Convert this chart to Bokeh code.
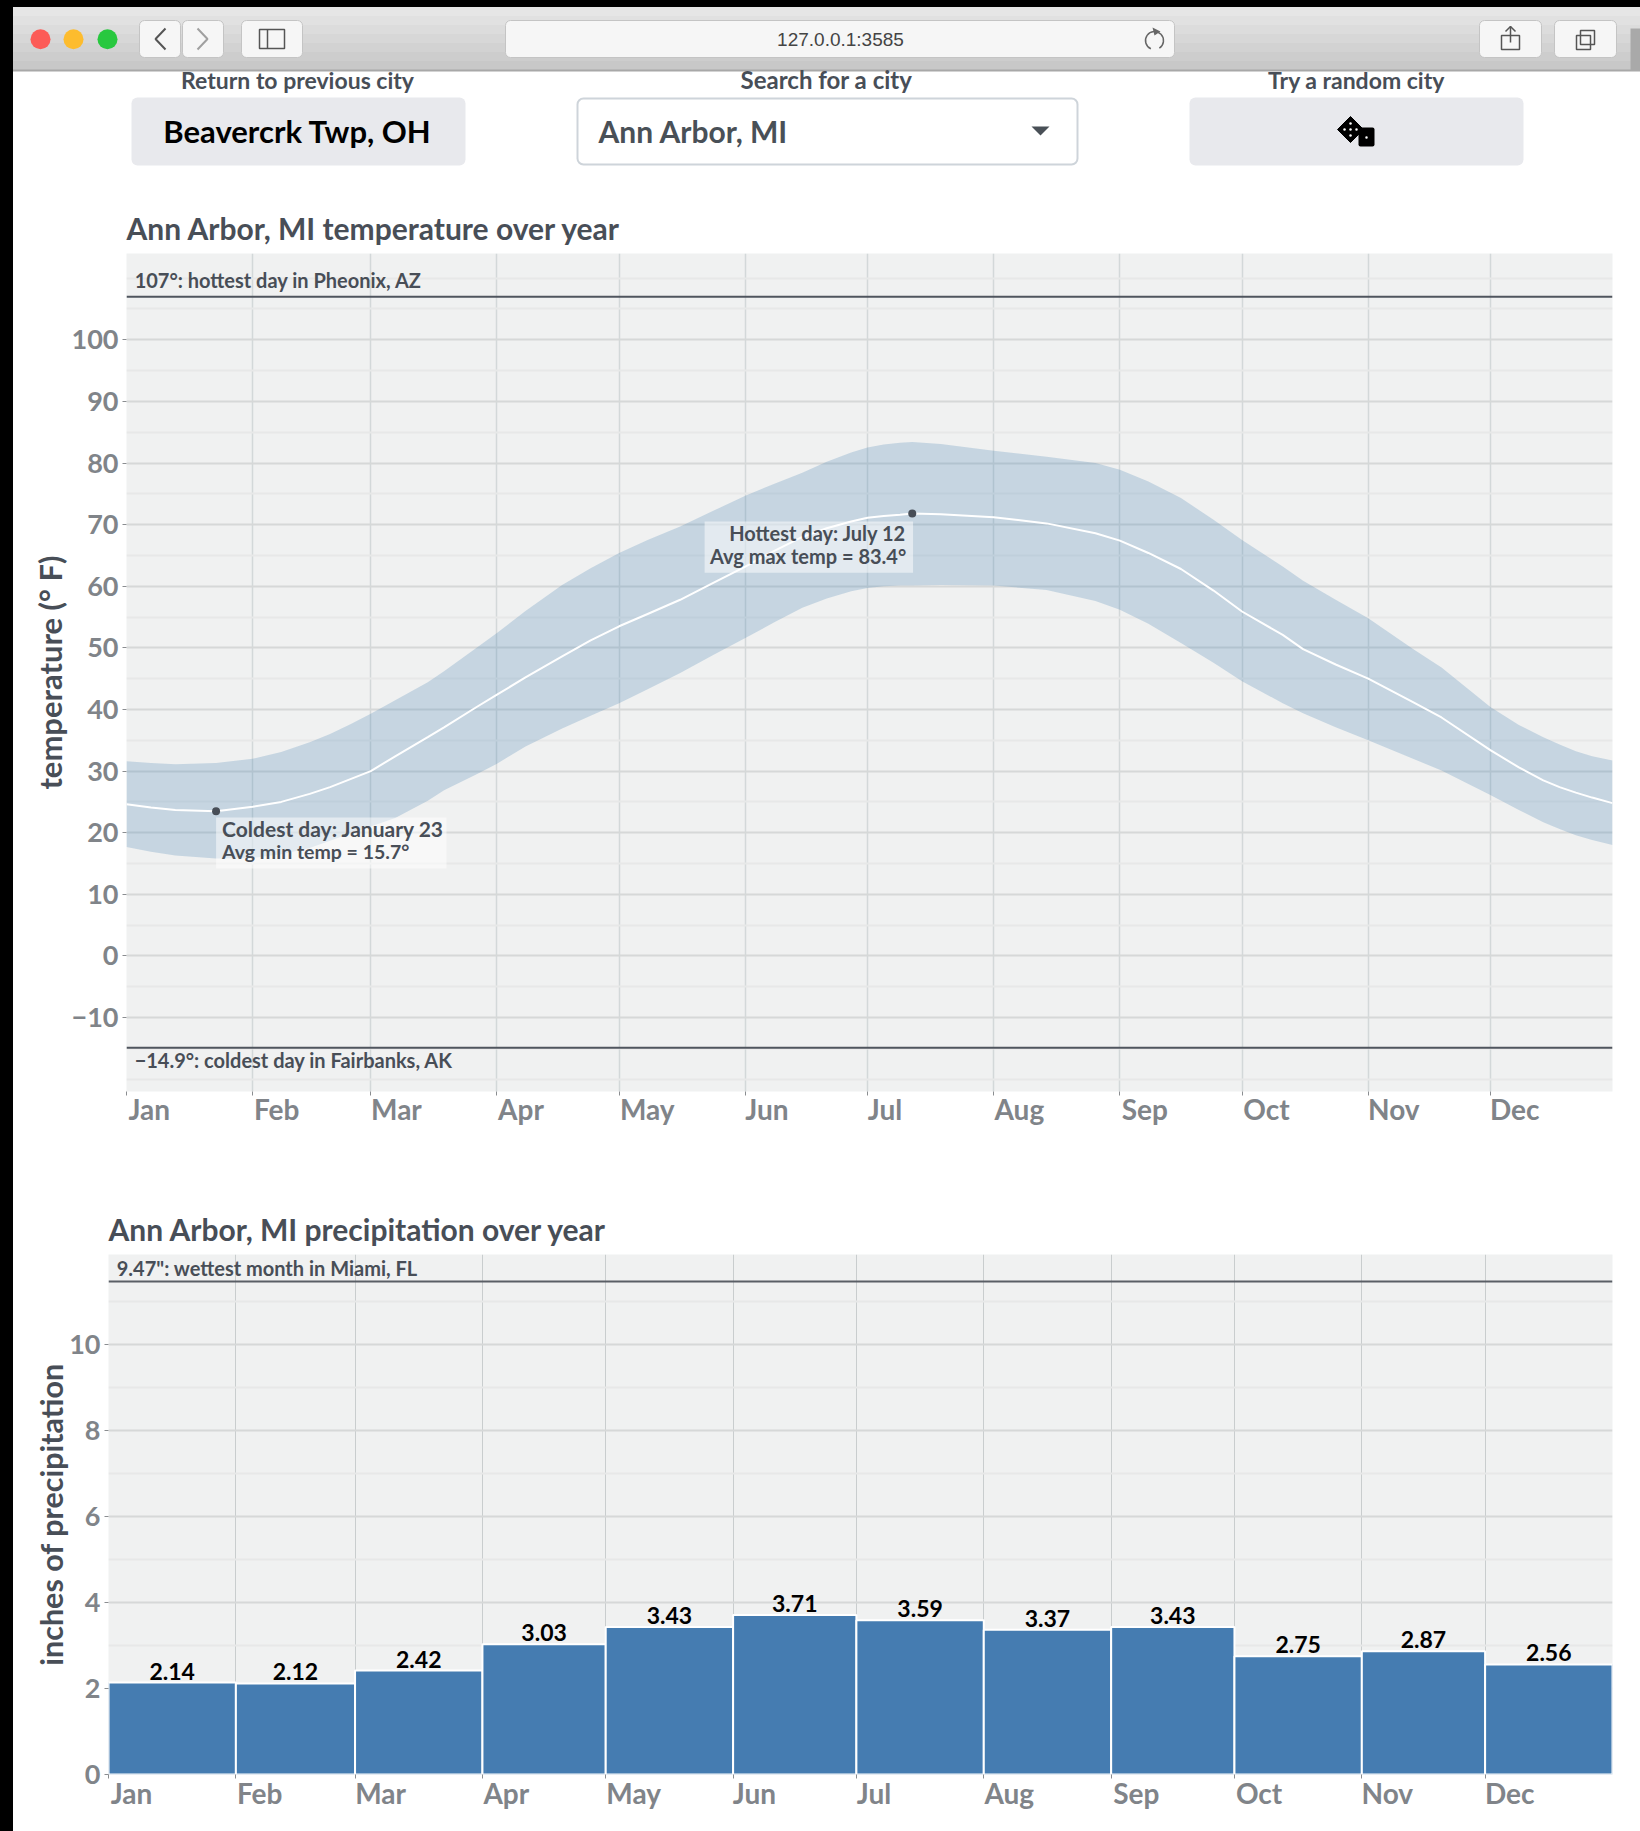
from bokeh.plotting import figure
from bokeh.layouts import column
from bokeh.embed import file_html
from bokeh.resources import INLINE
from bokeh.models import Range1d, FixedTicker, Span, Label, LabelSet, ColumnDataSource, BoxAnnotation, LinearAxis
from bokeh.core.properties import value

FONT = "Lato"
INK = "#484e57"
TICK = "#808489"

# ---------- data ----------
months = ["Jan", "Feb", "Mar", "Apr", "May", "Jun", "Jul", "Aug", "Sep", "Oct", "Nov", "Dec"]
month_edges = [0, 31, 60, 91, 121, 152, 182, 213, 244, 274, 305, 335, 365]
precip_edges = [0, 31, 60, 91, 121, 152, 182, 213, 244, 274, 305, 335, 366]
month_label_px = [46, 48, 51, 48, 56, 43, 35, 51, 50, 49, 51, 49]

band_days = [0, 6, 12, 22, 31, 38, 45, 50, 55, 60, 66, 74, 78, 86, 91, 98, 107, 114, 121, 128, 136, 144, 152, 159, 166, 172, 178, 182, 186, 190, 193,
             200, 213, 226, 238, 244, 251, 259, 267, 274, 284, 289, 297, 305, 316, 323, 335, 342, 348, 352, 356, 360, 365]
temp_max = [31.6, 31.3, 31.1, 31.3, 32.0, 33.1, 34.7, 36.0, 37.6, 39.3, 41.5, 44.4, 46.2, 50.0, 52.4, 56.0, 60.2, 62.9, 65.4, 67.5, 69.7, 72.2, 74.7, 76.6, 78.4, 80.2, 81.7, 82.5, 83.0, 83.3, 83.4,
            83.1, 82.0, 81.0, 80.0, 78.9, 77.0, 74.3, 70.8, 67.5, 63.2, 60.9, 57.8, 54.8, 49.8, 46.8, 40.4, 37.5, 35.5, 34.3, 33.2, 32.4, 31.7]
temp_min = [17.7, 16.9, 16.3, 15.8, 15.9, 16.5, 17.5, 18.7, 19.9, 21.0, 22.4, 25.2, 26.9, 29.5, 31.2, 34.0, 36.9, 39.0, 41.0, 43.3, 45.9, 48.8, 51.6, 54.1, 56.5, 58.0, 59.2, 59.7, 60.0, 60.1, 60.1,
            60.2, 60.1, 59.4, 57.6, 56.2, 53.9, 50.8, 47.6, 44.6, 41.0, 39.4, 37.1, 35.0, 32.0, 30.1, 26.1, 23.7, 21.7, 20.6, 19.6, 18.8, 18.0]
temp_avg = [24.6, 24.1, 23.7, 23.5, 24.2, 25.0, 26.3, 27.4, 28.7, 30.0, 32.4, 35.5, 37.1, 40.4, 42.4, 45.2, 48.6, 51.2, 53.5, 55.5, 57.8, 60.5, 63.2, 65.7, 68.0, 69.4, 70.5, 71.1, 71.4, 71.6, 71.8,
            71.7, 71.2, 70.2, 68.6, 67.4, 65.4, 62.8, 59.3, 55.9, 52.1, 49.8, 47.3, 45.0, 41.2, 38.7, 33.4, 30.6, 28.5, 27.4, 26.5, 25.7, 24.8]
coldest_day, coldest_temp = 22, 23.5
hottest_day, hottest_temp = 193, 71.8
temp_hi_line, temp_lo_line = 107, -14.9

precip = [2.14, 2.12, 2.42, 3.03, 3.43, 3.71, 3.59, 3.37, 3.43, 2.75, 2.87, 2.56]
precip_labels = ["2.14", "2.12", "2.42", "3.03", "3.43", "3.71", "3.59", "3.37", "3.43", "2.75", "2.87", "2.56"]
precip_line = 11.47

temp_major = list(range(-10, 101, 10))
temp_minor = [-20, -15, -5, 5, 15, 25, 35, 45, 55, 65, 75, 85, 95, 105, 110]
precip_major = [0, 2, 4, 6, 8, 10]
precip_minor = [1, 3, 5, 7, 9, 11]


def style_axes(p, edges, major, minor, gw, gc):
    p.frame_align = False
    p.xaxis.ticker = FixedTicker(ticks=edges[:-1])
    p.xaxis.major_label_overrides = {m: "" for m in edges[:-1]}
    p.yaxis.ticker = FixedTicker(ticks=major)
    for ax in (p.xaxis[0], p.yaxis[0]):
        ax.axis_line_color = None
        ax.major_tick_line_color = "#8a8d90"
        ax.major_tick_line_width = 1
        ax.major_tick_out = 4
        ax.major_tick_in = 0
        ax.minor_tick_line_color = None
    p.yaxis.major_label_text_font = FONT
    p.yaxis.major_label_text_font_style = "bold"
    p.yaxis.major_label_text_font_size = "27px"
    p.yaxis.major_label_text_color = TICK
    p.yaxis.major_label_standoff = 4
    p.yaxis.axis_label_text_font = FONT
    p.yaxis.axis_label_text_font_style = "bold"
    p.yaxis.axis_label_text_font_size = "31px"
    p.yaxis.axis_label_text_color = INK
    p.xgrid.ticker = FixedTicker(ticks=edges)
    p.xgrid.grid_line_color = gc
    p.xgrid.grid_line_width = gw
    p.ygrid.ticker = FixedTicker(ticks=major, minor_ticks=minor)
    p.ygrid.grid_line_color = "#d6d8d8"
    p.ygrid.grid_line_width = 2
    p.ygrid.minor_grid_line_color = "#e7e8e8"
    p.ygrid.minor_grid_line_width = 2
    p.background_fill_color = "#f0f1f1"
    p.outline_line_color = None
    p.title.text_font = FONT
    p.title.text_font_style = "bold"
    p.title.text_color = INK
    p.title.offset = 0


def month_labels(p, edges, per_day, standoff):
    # the month names start at their tick: a second axis carries them, centred on the middle of each name
    centres = [round(e + w / 2 / per_day, 1) for e, w in zip(edges, month_label_px)]
    ax = LinearAxis(ticker=FixedTicker(ticks=centres),
                    major_label_overrides=dict(zip(centres, months)),
                    axis_line_color=None, major_tick_line_color=None, minor_tick_line_color=None,
                    major_tick_out=0, major_tick_in=0, major_label_standoff=standoff,
                    major_label_text_font=FONT, major_label_text_font_style="bold",
                    major_label_text_font_size="28px", major_label_text_color=TICK)
    p.add_layout(ax, "below")


def note(p, x, y, t, xo=0, yo=0, align="left", size="20px"):
    p.add_layout(Label(x=x, y=y, x_offset=xo, y_offset=yo, text=t, text_align=align, text_baseline="middle",
                       text_font=FONT, text_font_style="bold", text_font_size=size, text_color=INK))


# ---------- header (browser chrome and page controls), in page pixels ----------
h = figure(width=1640, height=200, x_range=Range1d(0, 1640), y_range=Range1d(200, 0),
           toolbar_location=None, output_backend="svg", min_border=0)
h.frame_align = False
h.axis.visible = False
h.grid.visible = False
h.outline_line_color = None
h.background_fill_color = "white"
h.border_fill_color = "white"

chrome_tops = [7, 16, 25, 34, 43, 52, 61]
chrome_cols = ["#e6e6e6", "#e1e1e1", "#dcdcdc", "#d7d7d7", "#d2d2d2", "#cdcdcd", "#c8c8c8"]
h.quad(left=0, right=1640, top=chrome_tops, bottom=[c + 9 for c in chrome_tops], fill_color=chrome_cols,
       line_color=chrome_cols, line_width=1)
h.line([0, 1640], [70, 70], line_color="#a8a8a8", line_width=2)
h.quad(left=1630, right=1640, top=28, bottom=70, fill_color="#a9a9a9", line_color=None)

h.scatter([40, 73, 107], [38.7] * 3, size=20, marker="circle",
          fill_color=["#fc5b57", "#fdbc2e", "#28c83f"], line_color=None)

btn_l = [139, 182, 241, 505, 1479, 1554]
btn_r = [180, 223, 302, 1174, 1541, 1616]
h.quad(left=btn_l, right=btn_r, top=[20] * 6, bottom=[57] * 6, fill_color="#f6f6f6",
       line_color="#c4c4c4", line_width=1, border_radius=5)
h.line([165, 155, 165], [28, 38.5, 49], line_color="#555555", line_width=2)
h.line([197, 207, 197], [28, 38.5, 49], line_color="#a0a0a0", line_width=2)
h.quad(left=[259], right=[284], top=[29], bottom=[48], fill_color=None, line_color="#555555", line_width=1.5)
h.line([267, 267], [29, 48], line_color="#555555", line_width=1.5)
h.arc(x=[1154], y=[40], radius=9, start_angle=-1.0, end_angle=4.3, line_color="#666666", line_width=1.5)
h.patch([1152, 1160, 1154], [27, 31, 35], fill_color="#666666", line_color=None)
h.quad(left=[1501], right=[1519], top=[35], bottom=[49], fill_color=None, line_color="#555555", line_width=1.5)
h.line([1510, 1510], [26, 42], line_color="#555555", line_width=1.5)
h.line([1505, 1510, 1515], [31, 26, 31], line_color="#555555", line_width=1.5)
h.quad(left=[1576, 1580], right=[1590, 1594], top=[35, 30], bottom=[49, 44], fill_color=None,
       line_color="#555555", line_width=1.5)


def htext(x, y, t, size, color, align="center", bold=True, font=FONT):
    h.text([x], [y], text=[t], text_align=align, text_baseline="middle", text_font=value(font),
           text_font_size=size, text_color=color, text_font_style="bold" if bold else "normal")


htext(840, 39, "127.0.0.1:3585", "19px", "#444444", bold=False, font="Liberation Sans")
htext(297, 79, "Return to previous city", "23px", INK)
htext(826, 79, "Search for a city", "24px", INK)
htext(1356, 79, "Try a random city", "23px", INK)

h.quad(left=[131, 1189], right=[465, 1523], top=[97, 97], bottom=[165, 165], fill_color="#e8e9ed",
       line_color=None, border_radius=6)
h.quad(left=[577], right=[1077], top=[98], bottom=[164], fill_color="white", line_color="#ced4da",
       line_width=2, border_radius=6)
htext(297, 130, "Beavercrk Twp, OH", "31px", "#000000")
htext(598, 130, "Ann Arbor, MI", "30px", "#495057", align="left")
h.patch([1031, 1049, 1040], [126, 126, 135], fill_color="#495057", line_color=None)

h.patch([1350, 1363, 1350, 1337], [116, 129, 142, 129], fill_color="#000000", line_color="#000000", line_join="round")
h.quad(left=[1358], right=[1374], top=[127], bottom=[146], fill_color="#000000", line_color=None, border_radius=2)
h.scatter([1350, 1344, 1356, 1350, 1350, 1366], [129, 129, 129, 123, 135, 137], size=2.5, marker="circle",
          fill_color="white", line_color=None)

# ---------- temperature ----------
t = figure(width=1640, height=980, x_range=Range1d(0, 365), y_range=Range1d(-22, 114),
           toolbar_location=None, output_backend="svg", min_border_left=126, min_border_right=28,
           min_border_top=53, min_border_bottom=89, title="Ann Arbor, MI temperature over year")
style_axes(t, month_edges, temp_major, temp_minor, 1.5, "#d3d8d9")
t.title.text_font_size = "30px"
t.title.standoff = 15
t.yaxis.axis_label = "temperature (° F)"
t.yaxis.axis_label_standoff = 0

t.varea(x=band_days, y1=temp_min, y2=temp_max, fill_color="#4682b4", fill_alpha=0.25)
t.line(band_days, temp_avg, line_color="white", line_width=2)
t.add_layout(Span(location=temp_hi_line, dimension="width", line_color="#4f555e", line_width=2))
t.add_layout(Span(location=temp_lo_line, dimension="width", line_color="#4f555e", line_width=2))
note(t, 2, temp_hi_line, "107°: hottest day in Pheonix, AZ", yo=17)
note(t, 2, temp_lo_line, "−14.9°: coldest day in Fairbanks, AK", yo=-12)
t.add_layout(BoxAnnotation(left=22, right=78.6, top=22.45, bottom=14.2, fill_color="white", fill_alpha=0.5,
                           line_color=None))
t.add_layout(BoxAnnotation(left=142, right=193.2, top=70.5, bottom=62.2, fill_color="white", fill_alpha=0.5,
                           line_color=None))
t.scatter([coldest_day, hottest_day], [coldest_temp, hottest_temp], size=8, marker="circle",
          fill_color=INK, line_color=None)
note(t, coldest_day, coldest_temp, "Coldest day: January 23", xo=6, yo=-17.5, size="21px")
note(t, coldest_day, coldest_temp, "Avg min temp = 15.7°", xo=6, yo=-40.5, size="19.5px")
note(t, hottest_day, hottest_temp, "Hottest day: July 12", xo=-6, yo=-19, align="right", size="20px")
note(t, hottest_day, hottest_temp, "Avg max temp = 83.4°", xo=-6, yo=-42, align="right", size="20px")
month_labels(t, month_edges, 1486 / 365, -4)

# ---------- precipitation ----------
r = figure(width=1640, height=651, x_range=Range1d(0, 366), y_range=Range1d(0, 12.1),
           toolbar_location=None, output_backend="svg", min_border_left=108, min_border_right=28,
           min_border_top=74, min_border_bottom=57, title="Ann Arbor, MI precipitation over year")
style_axes(r, precip_edges, precip_major, precip_minor, 1, "#c9cdce")
r.title.text_font_size = "30px"
r.title.standoff = 15
r.yaxis.axis_label = "inches of precipitation"
r.yaxis.axis_label_text_font_size = "30.5px"
r.yaxis.axis_label_standoff = -3

bar_src = ColumnDataSource(dict(l=precip_edges[:-1], r=precip_edges[1:], v=precip, t=precip_labels,
                                c=[(a + b) / 2 for a, b in zip(precip_edges[:-1], precip_edges[1:])]))
r.quad(left="l", right="r", top="v", bottom=0, source=bar_src, fill_color="#457cb1", line_color="white", line_width=2)
r.add_layout(LabelSet(x="c", y="v", text="t", source=bar_src, y_offset=3, text_align="center", text_baseline="bottom",
                      text_font=value(FONT), text_font_style="bold", text_font_size="23px", text_color="#000000"))
r.add_layout(Span(location=precip_line, dimension="width", line_color="#5a5f66", line_width=2))
note(r, 2, precip_line, '9.47": wettest month in Miami, FL', yo=14)
month_labels(r, precip_edges, 1504 / 366, -3)

page = column(h, t, r, spacing=0)
css = """<style>
html,body{margin:0;padding:0;background:#fff}
body::before{content:"";position:fixed;left:0;top:0;width:13px;height:100%;background:#000;z-index:10}
body::after{content:"";position:fixed;left:0;top:0;width:100%;height:7px;background:#000;z-index:10}
</style></head>"""
html = file_html(page, INLINE).replace("</head>", css, 1)
open("out.html", "w").write(html)
